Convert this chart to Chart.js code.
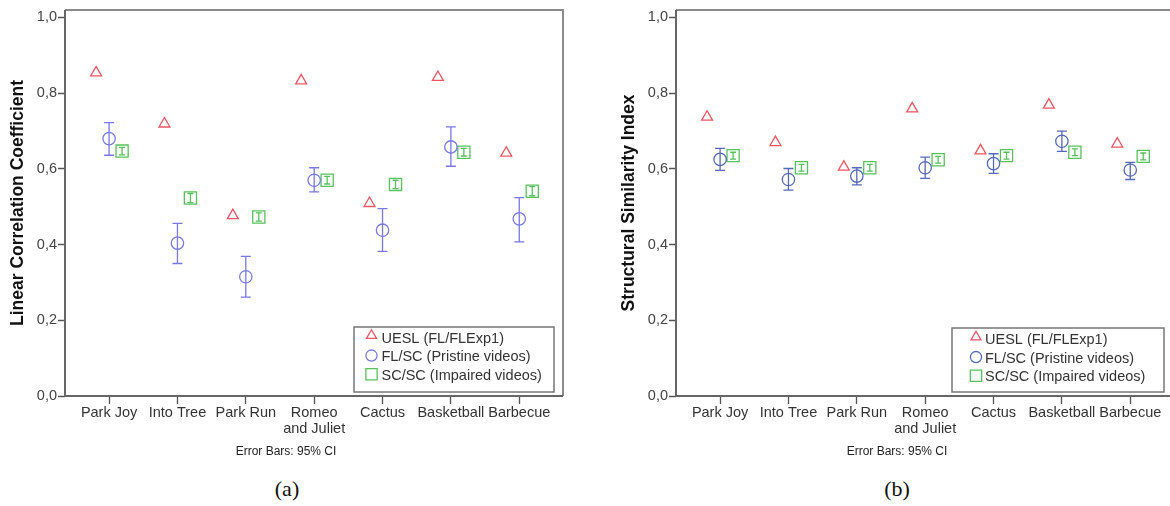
<!DOCTYPE html>
<html>
<head>
<meta charset="utf-8">
<script src="https://cdn.jsdelivr.net/npm/chart.js@4.4.1/dist/chart.umd.min.js"></script>
<style>
    html, body { margin: 0; padding: 0; background: #fff; width: 1170px; height: 506px; overflow: hidden; }
    canvas { position: absolute; top: 0; }
    #lccChart { left: 0; }
    #ssimChart { left: 611px; }
    .note { position: absolute; top: 444px; font: 12px "Liberation Sans", Arial, sans-serif; color: #222; transform: translateX(-50%); white-space: nowrap; }
    .cap { position: absolute; top: 476px; font: 22px "Liberation Serif", "DejaVu Serif", serif; color: #111; transform: translateX(-50%); }
</style>
</head>
<body>
<canvas id="lccChart" width="586" height="470"></canvas>
<canvas id="ssimChart" width="586" height="470"></canvas>
<div class="note" style="left:286px">Error Bars: 95% CI</div>
<div class="note" style="left:897px">Error Bars: 95% CI</div>
<div class="cap" style="left:287px">(a)</div>
<div class="cap" style="left:897px">(b)</div>
<script>
const categories = ['Park Joy', 'Into Tree', 'Park Run', ['Romeo', 'and Juliet'], 'Cactus', 'Basketball', 'Barbecue'];
const yTicks = [0, 0.2, 0.4, 0.6, 0.8, 1.0];
const legendLabels = ['UESL (FL/FLExp1)', 'FL/SC (Pristine videos)', 'SC/SC (Impaired videos)'];

// (a) linear correlation coefficient
const lccUesl = [0.854, 0.719, 0.477, 0.833, 0.509, 0.842, 0.642];
const lccFlsc = [0.680, 0.404, 0.315, 0.570, 0.438, 0.658, 0.468];
const lccFlscLo = [0.636, 0.350, 0.261, 0.539, 0.382, 0.607, 0.407];
const lccFlscHi = [0.722, 0.456, 0.369, 0.603, 0.495, 0.711, 0.524];
const lccScsc = [0.647, 0.523, 0.473, 0.570, 0.559, 0.644, 0.541];
const lccScscLo = [0.637, 0.511, 0.462, 0.560, 0.548, 0.634, 0.529];
const lccScscHi = [0.657, 0.535, 0.484, 0.580, 0.570, 0.654, 0.553];

// (b) structural similarity index
const ssimUesl = [0.737, 0.670, 0.605, 0.759, 0.648, 0.769, 0.666];
const ssimFlsc = [0.625, 0.572, 0.581, 0.603, 0.614, 0.673, 0.597];
const ssimFlscLo = [0.596, 0.544, 0.558, 0.575, 0.588, 0.646, 0.572];
const ssimFlscHi = [0.654, 0.601, 0.603, 0.631, 0.640, 0.700, 0.617];
const ssimScsc = [0.635, 0.603, 0.603, 0.624, 0.635, 0.644, 0.633];
const ssimScscLo = [0.626, 0.594, 0.594, 0.615, 0.626, 0.635, 0.624];
const ssimScscHi = [0.644, 0.612, 0.612, 0.633, 0.644, 0.653, 0.642];

const red = '#ef5461';
const green = '#55c25a';
const font = '"Liberation Sans", Arial, sans-serif';

function points(values, offset) {
    return values.map((v, i) => ({x: i + offset, y: v}));
}

const errorBars = {
    id: 'errorBars',
    afterDatasetsDraw(chart) {
        const {ctx, scales: {x, y}} = chart;
        chart.data.datasets.forEach(ds => {
            if (!ds.lo) return;
            ctx.save();
            ctx.strokeStyle = ds.borderColor;
            ctx.lineWidth = 1.3;
            ds.data.forEach((p, i) => {
                const px = x.getPixelForValue(p.x);
                const top = y.getPixelForValue(ds.hi[i]);
                const bot = y.getPixelForValue(ds.lo[i]);
                ctx.beginPath();
                ctx.moveTo(px, top); ctx.lineTo(px, bot);
                ctx.moveTo(px - ds.cap, top); ctx.lineTo(px + ds.cap, top);
                ctx.moveTo(px - ds.cap, bot); ctx.lineTo(px + ds.cap, bot);
                ctx.stroke();
            });
            ctx.restore();
        });
    }
};

const frame = {
    id: 'frame',
    afterDraw(chart) {
        const {ctx, chartArea: a} = chart;
        ctx.save();
        ctx.lineWidth = 2;
        ctx.strokeStyle = '#8a8a8a';
        ctx.beginPath();
        ctx.moveTo(a.left, a.top); ctx.lineTo(a.right, a.top); ctx.lineTo(a.right, a.bottom);
        ctx.stroke();
        ctx.strokeStyle = '#666';
        ctx.beginPath();
        ctx.moveTo(a.left, a.top); ctx.lineTo(a.left, a.bottom); ctx.lineTo(a.right, a.bottom);
        ctx.stroke();
        ctx.restore();
    }
};

const boxLegend = {
    id: 'boxLegend',
    afterDraw(chart, args, opts) {
        const ctx = chart.ctx;
        const b = opts.box;
        ctx.save();
        ctx.fillStyle = '#fff';
        ctx.fillRect(b.x, b.y, b.w, b.h);
        ctx.strokeStyle = '#777';
        ctx.lineWidth = 1.5;
        ctx.strokeRect(b.x, b.y, b.w, b.h);
        ctx.font = '14.5px ' + font;
        ctx.textBaseline = 'middle';
        chart.data.datasets.forEach((ds, i) => {
            const ty = b.y + b.firstRow + i * 18.6;
            ctx.strokeStyle = ds.borderColor;
            ctx.fillStyle = 'rgba(0,0,0,0)';
            ctx.lineWidth = 1.3;
            Chart.helpers.drawPoint(ctx, {pointStyle: ds.pointStyle, radius: ds.legendRadius, borderWidth: 1.3}, b.x + b.marker, ty - ds.legendLift);
            ctx.fillStyle = '#333';
            ctx.fillText(legendLabels[i], b.x + b.text, ty);
        });
        ctx.restore();
    }
};

function makeChart(id, title, circleColor, uesl, flsc, flscLo, flscHi, scsc, scscLo, scscHi, box) {
    return new Chart(document.getElementById(id), {
        type: 'scatter',
        data: {
            datasets: [{
                data: points(uesl, -0.19),
                pointStyle: 'triangle', pointRadius: 6.3, legendRadius: 5.8, legendLift: 3,
                borderColor: red, backgroundColor: 'rgba(0,0,0,0)', borderWidth: 1.3
            }, {
                data: points(flsc, 0),
                lo: flscLo, hi: flscHi, cap: 5,
                pointStyle: 'circle', pointRadius: 6.2, legendRadius: 5.6, legendLift: 1.5,
                borderColor: circleColor, backgroundColor: 'rgba(0,0,0,0)', borderWidth: 1.3
            }, {
                data: points(scsc, 0.19),
                lo: scscLo, hi: scscHi, cap: 3,
                pointStyle: 'rect', pointRadius: 8.6, legendRadius: 8, legendLift: 1.5,
                borderColor: green, backgroundColor: 'rgba(0,0,0,0)', borderWidth: 1.3
            }]
        },
        options: {
            responsive: false,
            animation: false,
            devicePixelRatio: 1,
            layout: {padding: {top: 8, right: 23, left: 0, bottom: 0}},
            plugins: {
                legend: {display: false},
                tooltip: {enabled: false},
                boxLegend: {box: box}
            },
            scales: {
                x: {
                    type: 'linear', min: -0.645, max: 6.64,
                    afterBuildTicks: s => { s.ticks = categories.map((c, i) => ({value: i})); },
                    afterFit: s => { s.height = 74; },
                    grid: {drawOnChartArea: false, tickLength: 8, tickWidth: 1.3, tickColor: '#555'},
                    border: {display: false},
                    ticks: {
                        autoSkip: false, maxRotation: 0, padding: 1,
                        color: '#333', font: {family: font, size: 14.5, lineHeight: 1.1},
                        callback: (v, i) => categories[i]
                    }
                },
                y: {
                    min: 0, max: 1.02,
                    afterBuildTicks: s => { s.ticks = yTicks.map(v => ({value: v})); },
                    afterFit: s => { s.width = 65; },
                    grid: {drawOnChartArea: false, tickLength: 7, tickWidth: 1.5, tickColor: '#555'},
                    border: {display: false},
                    ticks: {
                        padding: 1, color: '#444', font: {family: font, size: 14.5},
                        callback: v => v.toFixed(1).replace('.', ',')
                    },
                    title: {
                        display: true, text: title, color: '#111',
                        font: {family: font, size: 17.5, weight: 'bold'},
                        padding: {top: 8, bottom: 0}
                    }
                }
            }
        },
        plugins: [errorBars, frame, boxLegend]
    });
}

makeChart('lccChart', 'Linear Correlation Coefficient', '#7878e6',
    lccUesl, lccFlsc, lccFlscLo, lccFlscHi, lccScsc, lccScscLo, lccScscHi,
    {x: 354, y: 327, w: 200, h: 65, firstRow: 11.5, marker: 17.5, text: 27.5});
makeChart('ssimChart', 'Structural Similarity Index', '#5568ba',
    ssimUesl, ssimFlsc, ssimFlscLo, ssimFlscHi, ssimScsc, ssimScscLo, ssimScscHi,
    {x: 341, y: 328, w: 212, h: 64, firstRow: 12, marker: 24, text: 33});
</script>
</body>
</html>
